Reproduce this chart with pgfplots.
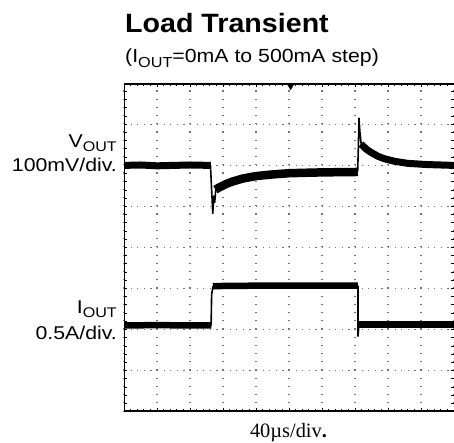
\documentclass[border=0pt]{standalone}
\usepackage{fontspec}
\setmainfont{Liberation Sans}
\newfontfamily\titlefont[FakeStretch=1.08]{Liberation Sans}
\newfontfamily\subfont[FakeStretch=1.12]{Liberation Sans}
\newfontfamily\labfont[FakeStretch=1.15]{Liberation Sans}
\newfontfamily\serfont{Liberation Serif}
\usepackage{pgfplots}
\pgfplotsset{compat=1.18}
\newcommand{\sub}[2]{\raisebox{-0.22em}{\fontsize{#1}{#1}\selectfont #2}}
\begin{document}
\begin{tikzpicture}
\useasboundingbox (-124bp,-31.3bp) rectangle (330bp,411.7bp);
\begin{axis}[
  at={(0,0)}, anchor=south west,
  scale only axis, width=330bp, height=328.4bp,
  xmin=0, xmax=10, ymin=0, ymax=8,
  xtick={0,...,10}, ytick={0,...,8},
  xticklabels={}, yticklabels={},
  minor tick num=4,
  tick align=inside,
  major tick length=3.5bp, minor tick length=3bp,
  tick style={black, line width=1bp},
  axis line style={draw=none},
  grid=major,
  x grid style={black!55, line width=1.2bp, dash pattern=on 1.2bp off 7.01bp},
  y grid style={black!55, line width=1.2bp, dash pattern=on 1.2bp off 5.4bp},
  line join=round, line cap=butt,
]
% V_OUT trace
\addplot[black, line width=7bp] coordinates {(0,6.0) (0.5,6.01) (1.0,5.99) (1.5,6.0) (2.0,6.01) (2.63,6.0)};
\addplot[black, line width=1.6bp] coordinates {(2.62,6.0) (2.65,5.5) (2.69,4.83) (2.72,5.25) (2.75,5.1) (2.78,5.42)};
\addplot[black, line width=8.5bp] coordinates {(2.77,5.41) (2.9,5.47) (3.1,5.55) (3.3,5.61) (3.6,5.68) (4.0,5.74) (4.5,5.78) (5.0,5.81) (6.0,5.83) (7.09,5.84)};
\addplot[black, line width=1.6bp] coordinates {(7.08,5.84) (7.10,6.4) (7.12,7.15) (7.15,6.8) (7.19,6.5)};
\addplot[black, line width=7bp] coordinates {(7.18,6.52) (7.35,6.39) (7.5,6.31) (7.7,6.22) (7.9,6.16) (8.2,6.10) (8.6,6.05) (9.2,6.02) (10,6.0)};
% I_OUT trace
\addplot[black, line width=6.5bp] coordinates {(0,2.10) (1.0,2.11) (2.0,2.10) (2.65,2.10)};
\addplot[black, line width=1.6bp] coordinates {(2.64,2.10) (2.655,2.85) (2.70,3.06)};
\addplot[black, line width=6.5bp] coordinates {(2.69,3.06) (4.0,3.07) (5.5,3.07) (7.09,3.07)};
\addplot[black, line width=1.6bp] coordinates {(7.09,3.07) (7.09,1.84) (7.12,2.12)};
\addplot[black, line width=6.5bp] coordinates {(7.10,2.12) (8.5,2.12) (10,2.12)};
% trigger marker
\addplot[only marks, mark=triangle*, mark options={rotate=180, fill=black}, mark size=3.2bp] coordinates {(5.05,7.92)};
% frame
\draw[line width=4bp] (rel axis cs:0,1) -- (rel axis cs:1,1);
\draw[line width=3.5bp] (rel axis cs:0,0) -- (rel axis cs:1,0);
\draw[line width=2.5bp] (rel axis cs:0,-0.005) -- (rel axis cs:0,1.006);
\end{axis}
\node[anchor=base west, inner sep=0pt] at (1bp,378.7bp) {\titlefont\bfseries\fontsize{26.5bp}{30bp}\selectfont Load Transient};
\node[anchor=base west, inner sep=0pt] at (1bp,348.7bp) {\subfont\fontsize{19bp}{22bp}\selectfont (I\sub{14.5bp}{OUT}=0mA to 500mA step)};
\node[anchor=base east, inner sep=0pt] at (-7bp,264bp) {\labfont\fontsize{18.5bp}{20bp}\selectfont V\sub{14bp}{OUT}};
\node[anchor=base east, inner sep=0pt] at (-7bp,240bp) {\labfont\fontsize{18.5bp}{20bp}\selectfont 100mV/div.};
\node[anchor=base east, inner sep=0pt] at (-7bp,98bp) {\labfont\fontsize{18.5bp}{20bp}\selectfont I\sub{14bp}{OUT}};
\node[anchor=base east, inner sep=0pt] at (-7bp,72bp) {\labfont\fontsize{18.5bp}{20bp}\selectfont 0.5A/div.};
\node[anchor=base, inner sep=0pt] at (164.5bp,-25.3bp) {\serfont\fontsize{20.4bp}{24bp}\selectfont 40\textmu s/div\textbf{.}};
\end{tikzpicture}
\end{document}
